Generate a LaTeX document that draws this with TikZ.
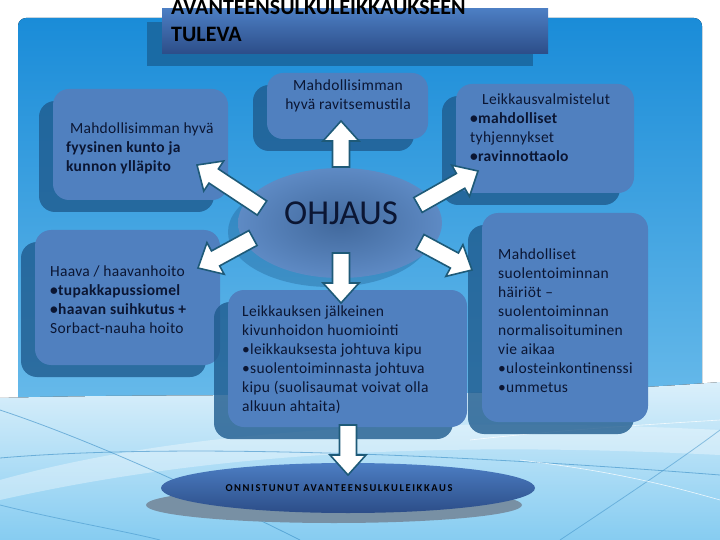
\documentclass[tikz,border=0pt]{standalone}
\usepackage{fontspec}
\setmainfont{Carlito}
\usetikzlibrary{calc,fit,shapes.geometric}
\definecolor{boxfront}{HTML}{5080BF}
\definecolor{boxshadow}{HTML}{1F5B8E}
\definecolor{txt}{HTML}{0B1633}
\definecolor{arrowedge}{HTML}{1E5A78}
\definecolor{bgtop}{HTML}{1A8CD8}
\definecolor{bgbot}{HTML}{86CCF1}
\definecolor{titletop}{HTML}{4C7EC3}
\definecolor{titlebot}{HTML}{2C4D88}
\definecolor{titleshadow}{HTML}{1A6BA5}
\definecolor{ellshadow}{HTML}{7890A4}
\definecolor{swline}{HTML}{3A8EC6}
\tikzset{
  frontbox/.style={fill=boxfront, rounded corners=16pt, inner sep=0pt, draw=none},
  shadowbox/.style={fill=boxshadow, fill opacity=0.8, rounded corners=16pt, inner sep=0pt, draw=none},
  boxtext/.style={font=\fontsize{15.5}{19}\selectfont\addfontfeatures{LetterSpace=2}, text=txt, align=left, inner sep=0pt, anchor=north west},
  blockarrow/.style={draw=arrowedge, line width=1.6pt, fill=white, line join=miter},
}
\newcommand\tbox[5]{%
  \node[shadowbox, fit={(#2-14,#3+12) (#4-14,#5+12)}] (#1s) {};
  \node[frontbox, fit={(#2,#3) (#4,#5)}] (#1) {};}
\newcommand\barrow[2]{%
  \coordinate (bahd) at ($(#2)!20pt!(#1)$);
  \path[blockarrow] ($(#1)!8.5pt!90:(#2)$) -- ($(bahd)!8.5pt!90:(#2)$) -- ($(bahd)!18pt!90:(#2)$) -- (#2)
     -- ($(bahd)!18pt!-90:(#2)$) -- ($(bahd)!8.5pt!-90:(#2)$) -- ($(#1)!8.5pt!-90:(#2)$) -- cycle;}
\begin{document}
\begin{tikzpicture}[x=1pt,y=-1pt]
\useasboundingbox (0,0) rectangle (720,540);
\fill[white] (0,0) rectangle (720,540);
% background panel
\fill[top color=bgtop, bottom color=bgbot, rounded corners=8pt] (18,18) rectangle (702,560);
% bottom swoosh
\fill[top color=white!70!bgbot, bottom color=bgbot] (0,398) .. controls (200,392) and (500,400) .. (720,382) -- (720,540) -- (0,540) -- cycle;
\fill[white, opacity=0.35] (0,480) .. controls (180,430) and (420,415) .. (720,430) -- (720,455) .. controls (420,440) and (200,455) .. (0,500) -- cycle;
\draw[swline, opacity=0.6, line width=0.8pt] (0,410) .. controls (90,440) and (200,490) .. (300,540);
\draw[swline, opacity=0.6, line width=0.8pt] (0,458) .. controls (150,445) and (400,450) .. (720,475);
\draw[swline, opacity=0.5, line width=0.8pt] (0,505) .. controls (60,520) and (120,530) .. (160,540);
\draw[swline, opacity=0.5, line width=0.8pt] (560,540) .. controls (620,500) and (680,460) .. (720,430);
\draw[white, opacity=0.8, line width=0.6pt] (470,440) .. controls (560,430) and (640,425) .. (720,420);
\draw[white, opacity=0.8, line width=0.6pt] (520,460) .. controls (600,470) and (650,480) .. (720,500);
% title
\node[fill=titleshadow, inner sep=0pt, fit={(147,22) (533,66)}] (titles) {};
\node[top color=titletop, bottom color=titlebot, inner sep=0pt, fit={(162,9) (548,54)}] (titlebox) {};
\node[font=\bfseries\fontsize{22}{27}\selectfont, text=black, align=left, inner sep=0pt, anchor=base west] (title1) at (171,15) {AVANTEENSULKULEIKKAUKSEEN};
\node[font=\bfseries\fontsize{22}{27}\selectfont, text=black, align=left, inner sep=0pt, anchor=base west] (title2) at (171,42) {TULEVA};
% boxes
\tbox{fyys}{53}{89}{228}{200}
\tbox{ravi}{267}{73}{428}{139}
\tbox{valm}{456}{84}{634}{193}
\tbox{haava}{35}{230}{220}{365}
\tbox{kipu}{228}{290}{467}{427}
\tbox{suoli}{482}{213}{648}{422}
% central ellipse
\fill[boxshadow, opacity=0.35] (330,232) ellipse [x radius=102pt, y radius=55pt];
\node[ellipse, inner color=boxfront!82!black, outer color=boxfront!92!white, minimum width=204pt, minimum height=110pt, inner sep=0pt] (ohj) at (340,223) {};
\node[font=\fontsize{35}{35}\selectfont, text=txt, inner sep=0pt] (ohjt) at (341,213) {OHJAUS};
% bottom ellipse
\node[ellipse, fill=ellshadow, minimum width=376pt, minimum height=36pt, inner sep=0pt] (onnis) at (334,505) {};
\node[ellipse, top color=titletop, bottom color=titlebot, minimum width=374pt, minimum height=50pt, inner sep=0pt] (onni) at (348,488) {};
\node[font=\bfseries\fontsize{10.5}{12}\selectfont\addfontfeatures{LetterSpace=15}, text=black!85!txt, inner sep=0pt] (onnit) at (339,488) {ONNISTUNUT AVANTEENSULKULEIKKAUS};
% arrow anchor coordinates
\coordinate (aup1) at (341,167);  \coordinate (aup2) at (341,121);
\coordinate (adn1) at (341,253);  \coordinate (adn2) at (341,303);
\coordinate (abt1) at (348,425);  \coordinate (abt2) at (348,475);
\coordinate (alu1) at (262,208);  \coordinate (alu2) at (197,165);
\coordinate (ald1) at (253,238);  \coordinate (ald2) at (198,268);
\coordinate (aru1) at (418,205);  \coordinate (aru2) at (478,171);
\coordinate (ard1) at (420,242);  \coordinate (ard2) at (472,270);
\barrow{aup1}{aup2}
\barrow{adn1}{adn2}
\barrow{abt1}{abt2}
\barrow{alu1}{alu2}
\barrow{ald1}{ald2}
\barrow{aru1}{aru2}
\barrow{ard1}{ard2}
% texts
\node[boxtext] (fyyst) at (66,123) {\ Mahdollisimman hyvä\\\textbf{fyysinen kunto ja}\\\textbf{kunnon ylläpito}};
\node[boxtext, align=center, anchor=north] (ravit) at (348,80) {Mahdollisimman\\hyvä ravitsemustila};
\node[boxtext] (valmt) at (470,94) {\hspace*{12pt}Leikkausvalmistelut\\\textbf{•mahdolliset}\\tyhjennykset\\\textbf{•ravinnottaolo}};
\node[boxtext] (haavat) at (50,266) {Haava / haavanhoito\\\textbf{•tupakkapussiomel}\\\textbf{•haavan suihkutus +}\\Sorbact-nauha hoito};
\node[boxtext] (kiput) at (242,306) {Leikkauksen jälkeinen\\kivunhoidon huomiointi\\•leikkauksesta johtuva kipu\\•suolentoiminnasta johtuva\\kipu (suolisaumat voivat olla\\alkuun ahtaita)};
\node[boxtext] (suolit) at (498,249) {Mahdolliset\\suolentoiminnan\\häiriöt –\\suolentoiminnan\\normalisoituminen\\vie aikaa\\•ulosteinkontinenssi\\•ummetus};
\end{tikzpicture}
\end{document}
